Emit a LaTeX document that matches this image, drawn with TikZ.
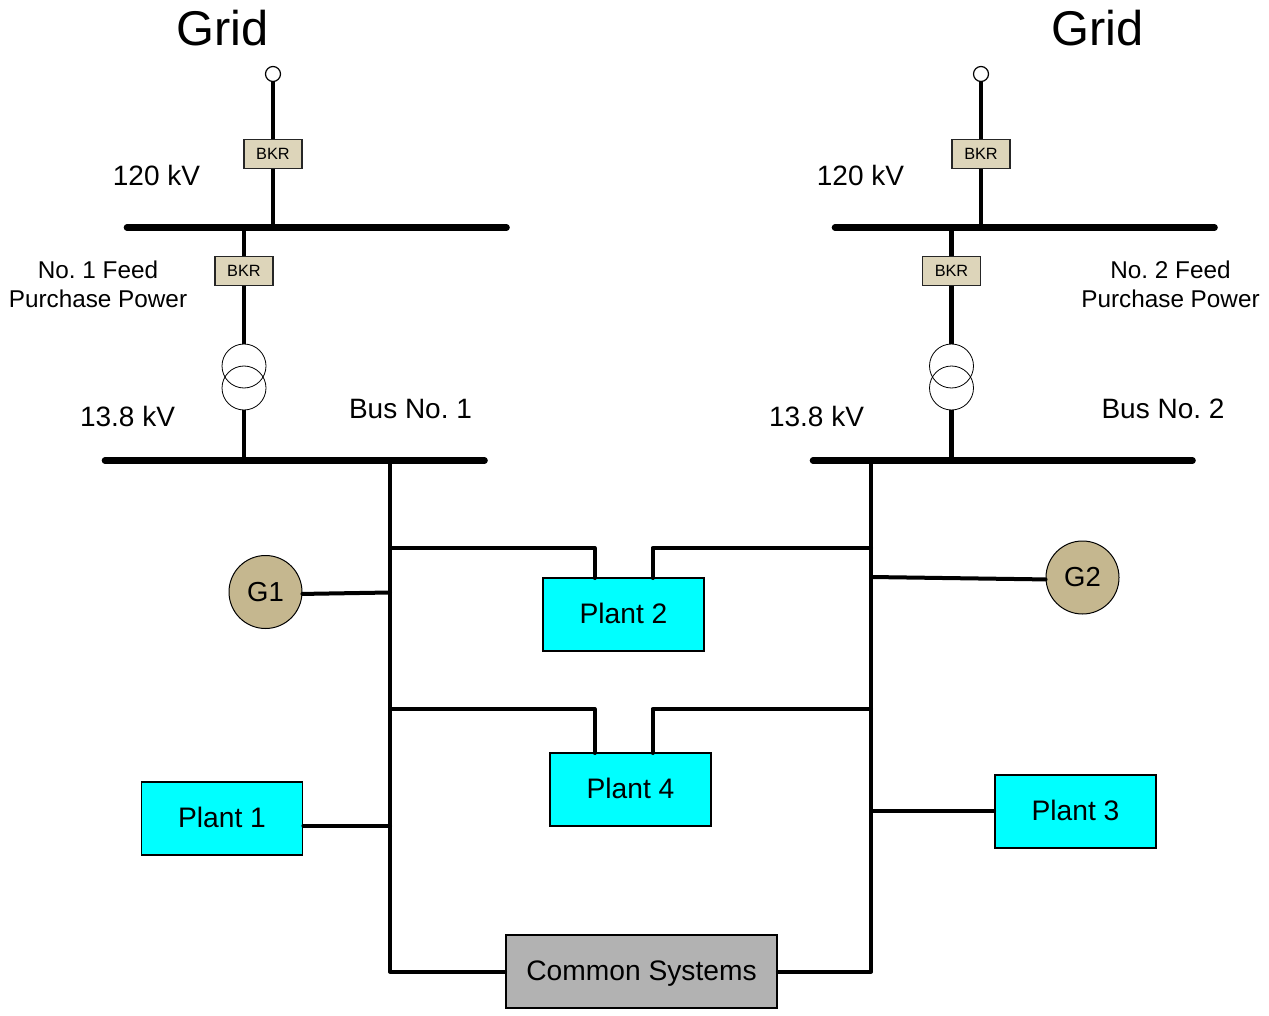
\documentclass[tikz,border=0pt]{standalone}
\usepackage{fontspec}
\setmainfont{Liberation Sans}
\usetikzlibrary{calc}
\frenchspacing
\tikzset{bus/.style={line width=6.6pt,line cap=round},
  feed/.style={line width=4.4pt},
  wire/.style={line width=4pt,line cap=round,line join=round},
  bkr/.style={draw=black!85,line width=1.4pt,fill=bkrtan,minimum width=58pt,minimum height=29pt,inner sep=0pt,font=\fontsize{16.3}{18}\selectfont},
  plant/.style={draw,line width=1.8pt,fill=cyan,minimum width=161pt,minimum height=73pt,inner sep=0pt,text height=18pt,text depth=0pt,font=\fontsize{28.2}{32}\selectfont},
  gen/.style={circle,draw,line width=1pt,fill=gentan,minimum size=73pt,inner sep=0pt,font=\fontsize{27.5}{32}\selectfont},
  xfmr/.style={circle,draw,line width=.8pt,minimum size=44pt,inner sep=0pt},
  term/.style={circle,draw,line width=1.2pt,fill=white,minimum size=15pt,inner sep=0pt},
  lbl/.style={align=center,inner sep=0pt,font=\fontsize{28}{30}\selectfont},
  feedlbl/.style={align=center,inner sep=0pt,font=\fontsize{24.3}{29}\selectfont},
  gridlbl/.style={inner sep=0pt,font=\fontsize{48.8}{52}\selectfont}}
\definecolor{bkrtan}{HTML}{DDD5BA}
\definecolor{gentan}{HTML}{C5B78F}
\definecolor{cyan}{HTML}{00FFFF}
\definecolor{common}{HTML}{B2B2B2}
\begin{document}
\begin{tikzpicture}[x=1pt,y=-1pt]
\useasboundingbox (0,0) rectangle (1269,1016);
% left feed
\coordinate (busA1) at (127,227.5);
\coordinate (busA2) at (506.5,227.5);
\coordinate (busB1) at (105,460.5);
\coordinate (busB2) at (484.5,460.5);
\coordinate (tapA) at (273,227.5);
\coordinate (tapB) at (244,227.5);
\coordinate (tapC) at (244,460.5);
\node[term] (termL) at (273,74) {};
\node[xfmr] (xfL1) at (244,366) {};
\node[xfmr] (xfL2) at (244,388) {};
\draw[feed] (termL) -- (tapA);
\draw[feed] (tapB) -- (xfL1.north);
\draw[feed] (xfL2.south) -- (tapC);
\draw[bus] (busA1) -- (busA2);
\draw[bus] (busB1) -- (busB2);
\node[bkr] (bkrL1) at (273,154) {BKR};
\node[bkr] (bkrL2) at (244,271) {BKR};
% right feed
\coordinate (busC1) at (835,227.5);
\coordinate (busC2) at (1214.5,227.5);
\coordinate (busD1) at (813,460.5);
\coordinate (busD2) at (1192.5,460.5);
\coordinate (tapD) at (981,227.5);
\coordinate (tapE) at (951.5,227.5);
\coordinate (tapF) at (951.5,460.5);
\node[term] (termR) at (981,74) {};
\node[xfmr] (xfR1) at (951.5,366) {};
\node[xfmr] (xfR2) at (951.5,388) {};
\draw[feed] (termR) -- (tapD);
\draw[feed] (tapE) -- (xfR1.north);
\draw[feed] (xfR2.south) -- (tapF);
\draw[bus] (busC1) -- (busC2);
\draw[bus] (busD1) -- (busD2);
\node[bkr] (bkrR1) at (981,154) {BKR};
\node[bkr] (bkrR2) at (951.5,271) {BKR};
% loads
\node[plant] (plant1) at (222,818.5) {Plant 1};
\node[plant] (plant2) at (623.5,614.5) {Plant 2};
\node[plant] (plant3) at (1075.5,811.5) {Plant 3};
\node[plant] (plant4) at (630.5,789.5) {Plant 4};
\node[plant,fill=common,minimum width=271pt] (common) at (641.5,971.5) {Common Systems};
\node[gen] (G1) at (265.5,592) {G1};
\node[gen] (G2) at (1082.5,577.5) {G2};
\coordinate (riseL) at (390,461);
\coordinate (riseR) at (871,461);
\coordinate (p2L) at (594.5,578);
\coordinate (p2R) at (652.5,578);
\coordinate (p4L) at (594.5,753);
\coordinate (p4R) at (652.5,753);
\draw[wire] (riseL) |- (common.west);
\draw[wire] (riseR) |- (common.east);
\draw[wire] (390,548) -| (p2L);
\draw[wire] (871,548) -| (p2R);
\draw[wire] (390,709) -| (p4L);
\draw[wire] (871,709) -| (p4R);
\draw[wire] (G1.-3) -- (390,592.5);
\draw[wire] (G2.183) -- (871,577);
\draw[wire] (plant1.east |- 0,825.5) -- (390,825.5);
\draw[wire] (plant3.west |- 0,811) -- (871,811);
% labels
\node[gridlbl] (gridL) at (222.5,28) {Grid};
\node[gridlbl] (gridR) at (1097.5,28) {Grid};
\node[lbl] (kvA) at (156.5,175) {120 kV};
\node[lbl] (kvC) at (860.5,175) {120 kV};
\node[lbl] (kvB) at (127.5,416) {13.8 kV};
\node[lbl] (kvD) at (816.5,416) {13.8 kV};
\node[lbl] (busnameL) at (410.5,409) {Bus No. 1};
\node[lbl] (busnameR) at (1163,409) {Bus No. 2};
\node[feedlbl] (feedL) at (98,284.5) {No. 1 Feed\\Purchase Power};
\node[feedlbl] (feedR) at (1170.5,284.5) {No. 2 Feed\\Purchase Power};
\end{tikzpicture}
\end{document}
